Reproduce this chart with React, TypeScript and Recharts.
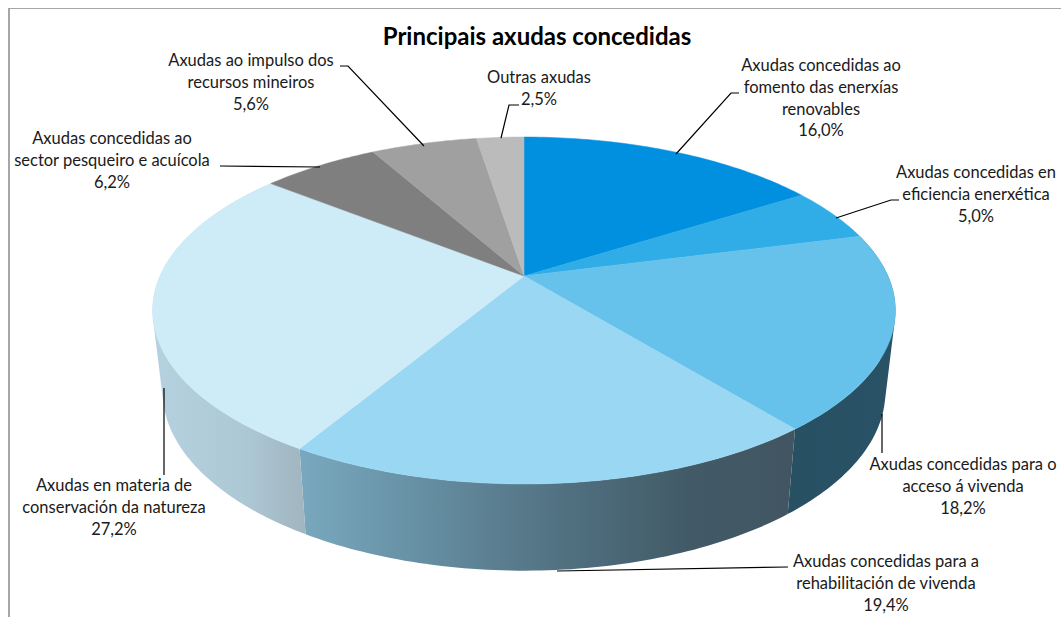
import { Pie, PieChart } from "recharts";

const names = [
  "Axudas concedidas ao fomento das enerxías renovables",
  "Axudas concedidas en eficiencia enerxética",
  "Axudas concedidas para o acceso á vivenda",
  "Axudas concedidas para a rehabilitación de vivenda",
  "Axudas en materia de conservación da natureza",
  "Axudas concedidas ao sector pesqueiro e acuícola",
  "Axudas ao impulso dos recursos mineiros",
  "Outras axudas",
];
const values = [16.0, 5.0, 18.2, 19.4, 27.2, 6.2, 5.6, 2.5];
const topColors = ["#0090DF", "#30ADE6", "#66C2EB", "#9AD7F2", "#CEEBF8", "#7F7F7F", "#A0A0A0", "#BBBBBB"];

const data = names.map((name, i) => ({ name, value: values[i], fill: topColors[i] }));

// wrapped label text, same order as names
const labelLines = [
  ["Axudas concedidas ao", "fomento das enerxías", "renovables"],
  ["Axudas concedidas en", "eficiencia enerxética"],
  ["Axudas concedidas para o", "acceso á vivenda"],
  ["Axudas concedidas para a", "rehabilitación de vivenda"],
  ["Axudas en materia de", "conservación da natureza"],
  ["Axudas concedidas ao", "sector pesqueiro e acuícola"],
  ["Axudas ao impulso dos", "recursos mineiros"],
  ["Outras axudas"],
];

// label placement: text centre, first baseline, leader polyline
const labelLayout = [
  { x: 821, y: 71, leader: [[676, 154], [731, 93], [739, 93]] },
  { x: 976, y: 178, leader: [[836, 218], [891, 200], [899, 200]] },
  { x: 963, y: 470, leader: [[882, 414], [882, 453]] },
  { x: 886, y: 567, leader: [[557, 571], [788, 567]] },
  { x: 114, y: 491, leader: [[164, 388], [164, 475]] },
  { x: 112, y: 144, leader: [[320, 167], [220, 166]] },
  { x: 251, y: 66, leader: [[424, 146], [348, 66], [340, 66]] },
  { x: 539, y: 83, leader: [[501, 138], [509, 105], [519, 105]] },
];

// side wall shading, [offset, colour] left to right
const wallShades: Record<number, { x1: number; x2: number; stops: [number, string][] }> = {
  2: { x1: 780, x2: 890, stops: [[0, "#285063"], [1, "#2A5266"]] },
  3: { x1: 303, x2: 785, stops: [[0, "#78A8BE"], [0.3, "#62899C"], [0.55, "#507080"], [0.8, "#425A67"], [1, "#415662"]] },
  4: { x1: 155, x2: 305, stops: [[0, "#B5D1DF"], [0.6, "#ADC8D5"], [1, "#A0B5BF"]] },
};

// perspective of the tilted disc
const KEY = 0.1988;
const TOP_SQUASH = 0.4577;
const FLOOR_SQUASH = 0.4725;
const FLOOR_SCALE = 0.973;
const FLOOR_DROP = 80;

function project(cx: number, cy: number, r: number, deg: number, floor: boolean) {
  const t = ((90 - deg) * Math.PI) / 180;
  const u = Math.sin(t);
  const v = -Math.cos(t);
  const w = 1 - KEY * v;
  if (floor) {
    return [cx + (r * FLOOR_SCALE * u) / w, cy + FLOOR_DROP + (r * FLOOR_SQUASH * v) / w];
  }
  return [cx + (r * u) / w, cy + (r * TOP_SQUASH * v) / w];
}

function angleSteps(start: number, end: number) {
  const n = Math.max(2, Math.ceil(Math.abs(end - start)));
  return Array.from({ length: n + 1 }, (_, i) => start + ((end - start) * i) / n);
}

function TopSlice(props: any) {
  const { cx, cy, outerRadius, startAngle, endAngle, fill } = props;
  const pts = angleSteps(startAngle, endAngle).map((a) => project(cx, cy, outerRadius, a, false));
  const d = `M${cx},${cy}L` + pts.map((p) => p.join(",")).join("L") + "Z";
  return <path d={d} fill={fill} stroke={fill} strokeWidth={0.5} />;
}

function WallSlice(props: any) {
  const { cx, cy, outerRadius, startAngle, endAngle, payload } = props;
  const idx = names.indexOf(payload.name);
  const shade = wallShades[idx];
  if (!shade) return null;
  const steps = angleSteps(startAngle, endAngle);
  let d = "";
  for (let i = 0; i < steps.length - 1; i++) {
    const q = [
      project(cx, cy, outerRadius, steps[i], false),
      project(cx, cy, outerRadius, steps[i + 1], false),
      project(cx, cy, outerRadius, steps[i + 1], true),
      project(cx, cy, outerRadius, steps[i], true),
    ];
    let area = 0;
    q.forEach((p, j) => {
      const n = q[(j + 1) % 4];
      area += p[0] * n[1] - n[0] * p[1];
    });
    if (area < 0) q.reverse();
    d += "M" + q.map((p) => p.join(",")).join("L") + "Z";
  }
  const id = `wall-${idx}`;
  return (
    <g>
      <linearGradient id={id} gradientUnits="userSpaceOnUse" x1={shade.x1} x2={shade.x2} y1={0} y2={0}>
        {shade.stops.map(([o, c]) => (
          <stop key={o} offset={o} stopColor={c} />
        ))}
      </linearGradient>
      <path d={d} fill={`url(#${id})`} />
    </g>
  );
}

function SliceLabel(props: any) {
  const { index } = props;
  const at = labelLayout[index];
  const lines = [...labelLines[index], `${values[index].toFixed(1).replace(".", ",")}%`];
  return (
    <g>
      <polyline points={at.leader.map((p) => p.join(",")).join(" ")} fill="none" stroke="#000" strokeWidth={1.2} />
      <text x={at.x} y={at.y} textAnchor="middle" fontSize={16.5} fill="#1a1a1a" fontFamily="Lato">
        {lines.map((line, i) => (
          <tspan key={i} x={at.x} dy={i === 0 ? 0 : 21.8}>
            {line}
          </tspan>
        ))}
      </text>
    </g>
  );
}

export default function App() {
  return (
    <div style={{ position: "absolute", left: 0, top: 0, width: 1061, height: 617, overflow: "hidden", background: "#fff" }}>
      <div
        style={{
          position: "absolute",
          left: 8,
          top: 8,
          width: 1060,
          height: 620,
          borderLeft: "2px solid #a6a6a6",
          borderTop: "1px solid #a6a6a6",
        }}
      />
      <PieChart width={1061} height={617} margin={{ top: 0, right: 0, bottom: 0, left: 0 }} style={{ position: "absolute" }}>
        <text x={537} y={45} textAnchor="middle" fontSize={24} fontWeight={700} fill="#000" fontFamily="Lato">
          Principais axudas concedidas
        </text>
        <Pie
          data={data}
          dataKey="value"
          nameKey="name"
          cx={524}
          cy={276}
          outerRadius={364}
          startAngle={90}
          endAngle={-270}
          stroke="none"
          shape={WallSlice}
          isAnimationActive={false}
        />
        <Pie
          data={data}
          dataKey="value"
          nameKey="name"
          cx={524}
          cy={276}
          outerRadius={364}
          startAngle={90}
          endAngle={-270}
          stroke="none"
          shape={TopSlice}
          label={SliceLabel}
          labelLine={false}
          isAnimationActive={false}
        />
      </PieChart>
    </div>
  );
}
